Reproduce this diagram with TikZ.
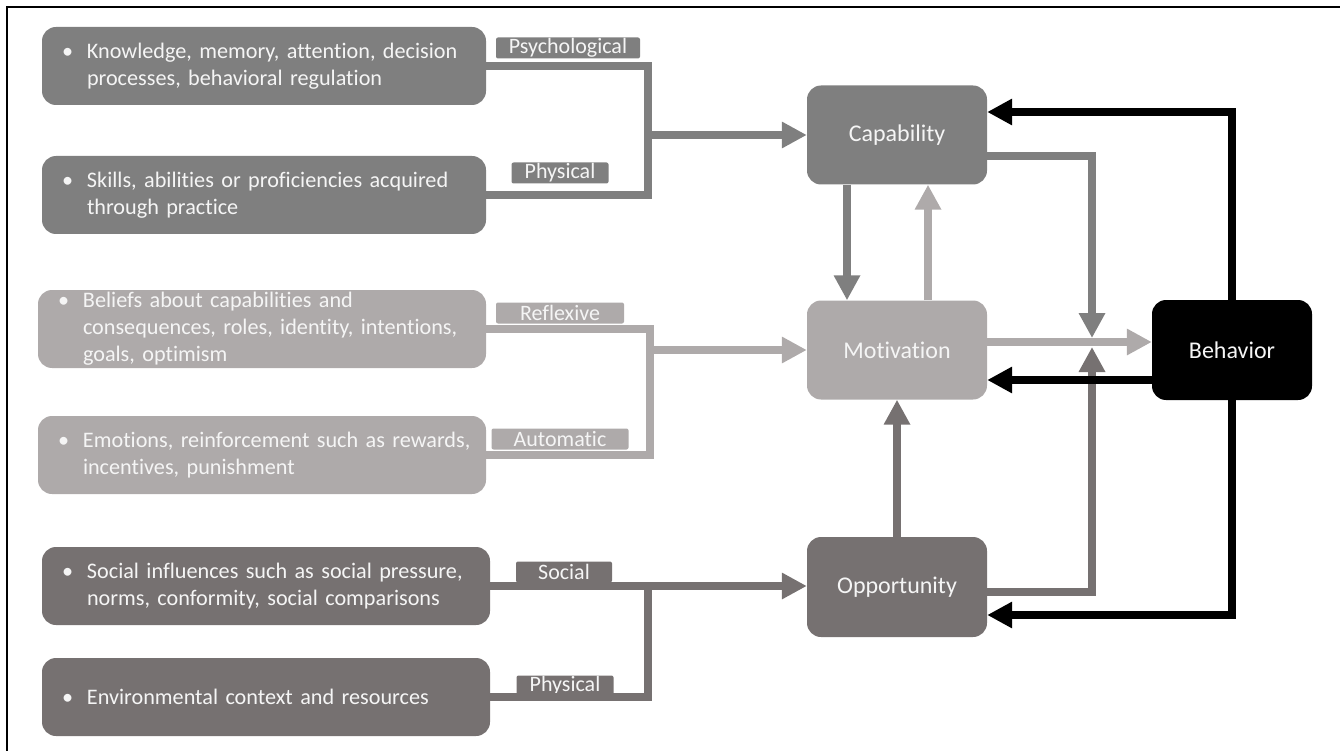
\documentclass[tikz,border=0pt]{standalone}
\usepackage{fontspec}
\setmainfont{Carlito}[Ligatures=NoCommon]
\usetikzlibrary{arrows.meta}
\definecolor{capc}{RGB}{127,127,127}
\definecolor{motc}{RGB}{174,170,170}
\definecolor{oppc}{RGB}{118,113,113}
\definecolor{txt}{RGB}{245,245,245}
\newcommand{\bul}[1]{\mbox{\makebox[25pt][l]{\textbullet}#1}}
\newcommand{\ind}[1]{\mbox{\hspace*{25pt}#1}}
\tikzset{
  lbox/.style={rounded corners=14pt, text=txt, inner xsep=20pt, inner ysep=0pt, align=left,
    minimum height=78pt, font=\fontsize{22.2}{27}\selectfont},
  mbox/.style={rounded corners=14pt, text=txt, minimum width=180pt, minimum height=99pt,
    inner sep=0pt, font=\fontsize{24}{28}\selectfont},
  tag/.style={rounded corners=2pt, text=txt, inner sep=0pt, minimum height=21pt,
    font=\fontsize{22}{22}\selectfont},
  conn/.style={line width=8pt},
  arr/.style={conn, -{Triangle[length=25pt,width=25pt]}},
}
\begin{document}
\begin{tikzpicture}[x=1pt,y=-1pt]
\useasboundingbox (0,0) rectangle (1340,751);
\draw[line width=1.5pt] (7,751) -- (7,7) -- (1340,7);

% left boxes
\node[lbox, fill=capc, text width=404pt] (b1) at (264,66)
  {\bul{Knowledge, memory, attention, decision}\\\ind{processes, behavioral regulation}};
\node[lbox, fill=capc, text width=404pt] (b2) at (264,195)
  {\bul{Skills, abilities or proficiencies acquired}\\\ind{through practice}};
\node[lbox, fill=motc, text width=408pt] (b3) at (262,329)
  {\bul{Beliefs about capabilities and}\\\ind{consequences, roles, identity, intentions,}\\\ind{goals, optimism}};
\node[lbox, fill=motc, text width=408pt] (b4) at (262,455)
  {\bul{Emotions, reinforcement such as rewards,}\\\ind{incentives, punishment}};
\node[lbox, fill=oppc, text width=408pt] (b5) at (266,586)
  {\bul{Social influences such as social pressure,}\\\ind{norms, conformity, social comparisons}};
\node[lbox, fill=oppc, text width=408pt] (b6) at (266,697)
  {\bul{Environmental context and resources}};

% tags
\node[tag, fill=capc, minimum width=144pt] (t1) at (568,48) {Psychological};
\node[tag, fill=capc, minimum width=97pt] (t2) at (560,173) {Physical};
\node[tag, fill=motc, minimum width=128pt] (t3) at (560,313) {Reflexive};
\node[tag, fill=motc, minimum width=137pt] (t4) at (560,439) {Automatic};
\node[tag, fill=oppc, minimum width=96pt] (t5) at (564,572) {Social};
\node[tag, fill=oppc, minimum width=97pt] (t6) at (565,686) {Physical};

% main nodes
\node[mbox, fill=capc] (cap) at (897,135) {Capability};
\node[mbox, fill=motc] (mot) at (897,350) {Motivation};
\node[mbox, fill=oppc, minimum height=100pt] (opp) at (897,587) {Opportunity};
\node[mbox, fill=black, minimum width=160pt, minimum height=100pt] (beh) at (1232,350) {Behavior};

% junctions
\coordinate (j1) at (648,135);
\coordinate (j2) at (650,350);
\coordinate (j3) at (648,586);
\coordinate (jb) at (1092,342);

% left connectors
\draw[conn, capc] (b1.east) -| (j1);
\draw[conn, capc] (b2.east) -| (j1);
\draw[arr, capc] (j1) -- (cap.west);
\draw[conn, motc] (b3.east) -| (j2);
\draw[conn, motc] (b4.east) -| (j2);
\draw[arr, motc] (j2) -- (mot.west);
\draw[conn, oppc] (b6.east) -| (j3);
\draw[arr, oppc] (b5.east) -- (b5.east -| opp.west);

% right connectors
\draw[arr, capc] ([xshift=-50pt]cap.south) -- ([xshift=-50pt]mot.north);
\draw[arr, motc] ([xshift=31pt]mot.north) -- ([xshift=31pt]cap.south);
\draw[arr, oppc] (opp.north) -- (mot.south);
\draw[arr, capc] ([yshift=-21pt]cap.east) -| ([yshift=4pt]jb);
\draw[arr, oppc] ([yshift=-5pt]opp.east) -| ([yshift=-5pt]jb);
\draw[arr, motc] ([yshift=8pt]mot.east) -- ([yshift=8pt]mot.east -| beh.west);
\draw[arr, black] (beh.north) |- ([yshift=23pt]cap.east);
\draw[arr, black] ([yshift=-30pt]beh.west) -- ([yshift=-30pt]beh.west -| mot.east);
\draw[arr, black] (beh.south) |- ([yshift=-28pt]opp.east);
\end{tikzpicture}
\end{document}
